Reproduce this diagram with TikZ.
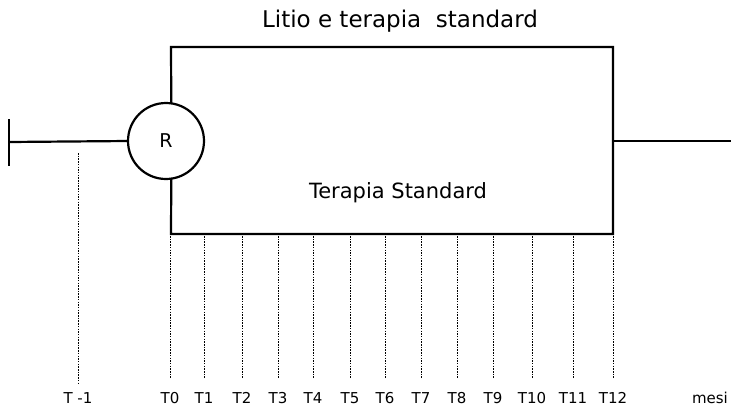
\documentclass[tikz,border=0pt]{standalone}
\usepackage{fontspec}
\setmainfont{DejaVu Sans}
\begin{document}
\begin{tikzpicture}[x=1pt,y=-1pt,
  heavy/.style={line width=2.2pt},
  tickline/.style={line width=0.9pt, dash pattern=on 1.5pt off 1.2pt, black},
  lab/.style={font=\fontsize{15}{15}\selectfont, anchor=base, inner sep=0pt}]
\path[use as bounding box] (0,0) rectangle (731,410);
% randomisation circle
\node[draw, circle, heavy, minimum size=76pt, inner sep=0pt, outer sep=0pt,
      font=\fontsize{19}{19}\selectfont] (R) at (166,141) {R};
% left bar and entry line
\coordinate (bartop) at (9,119);
\coordinate (barbot) at (9,166);
\coordinate (barmid) at (9,142);
\draw[heavy] (bartop) -- (barbot);
\draw[heavy] (barmid) -- (R.west);
% arms
\coordinate (tl) at (171,47);
\coordinate (tr) at (613,47);
\coordinate (br) at (613,234);
\coordinate (bl) at (171,234);
\draw[heavy] (R.82) -- (tl) -- (tr) -- (br) -- (bl) -- (R.278);
\coordinate (rmid) at (613,141);
\coordinate (rend) at (731,141);
\draw[heavy] (rmid) -- (rend);
% texts
\node[font=\fontsize{23}{23}\selectfont, anchor=base, inner sep=0pt] (title) at (400,27) {Litio e terapia\ \ standard};
\node[font=\fontsize{21}{21}\selectfont, anchor=base, inner sep=0pt] (std) at (398,198) {Terapia Standard};
% T -1
\coordinate (tm1top) at (78,153);
\coordinate (tm1bot) at (78,385);
\draw[tickline] (tm1top) -- (tm1bot);
\node[lab] (Lm1) at (78,403) {T -1};
% time points
\foreach \i/\x in {0/170,1/204,2/242,3/278,4/313,5/350,6/385,7/421,8/457,9/493,10/532,11/573,12/613}{
  \coordinate (t\i top) at (\x,236);
  \coordinate (t\i bot) at (\x,379);
  \draw[tickline] (t\i top) -- (t\i bot);
  \node[lab] (L\i) at (\x,403) {T\i};
}
\node[lab] (mesi) at (710,403) {mesi};
\end{tikzpicture}
\end{document}
